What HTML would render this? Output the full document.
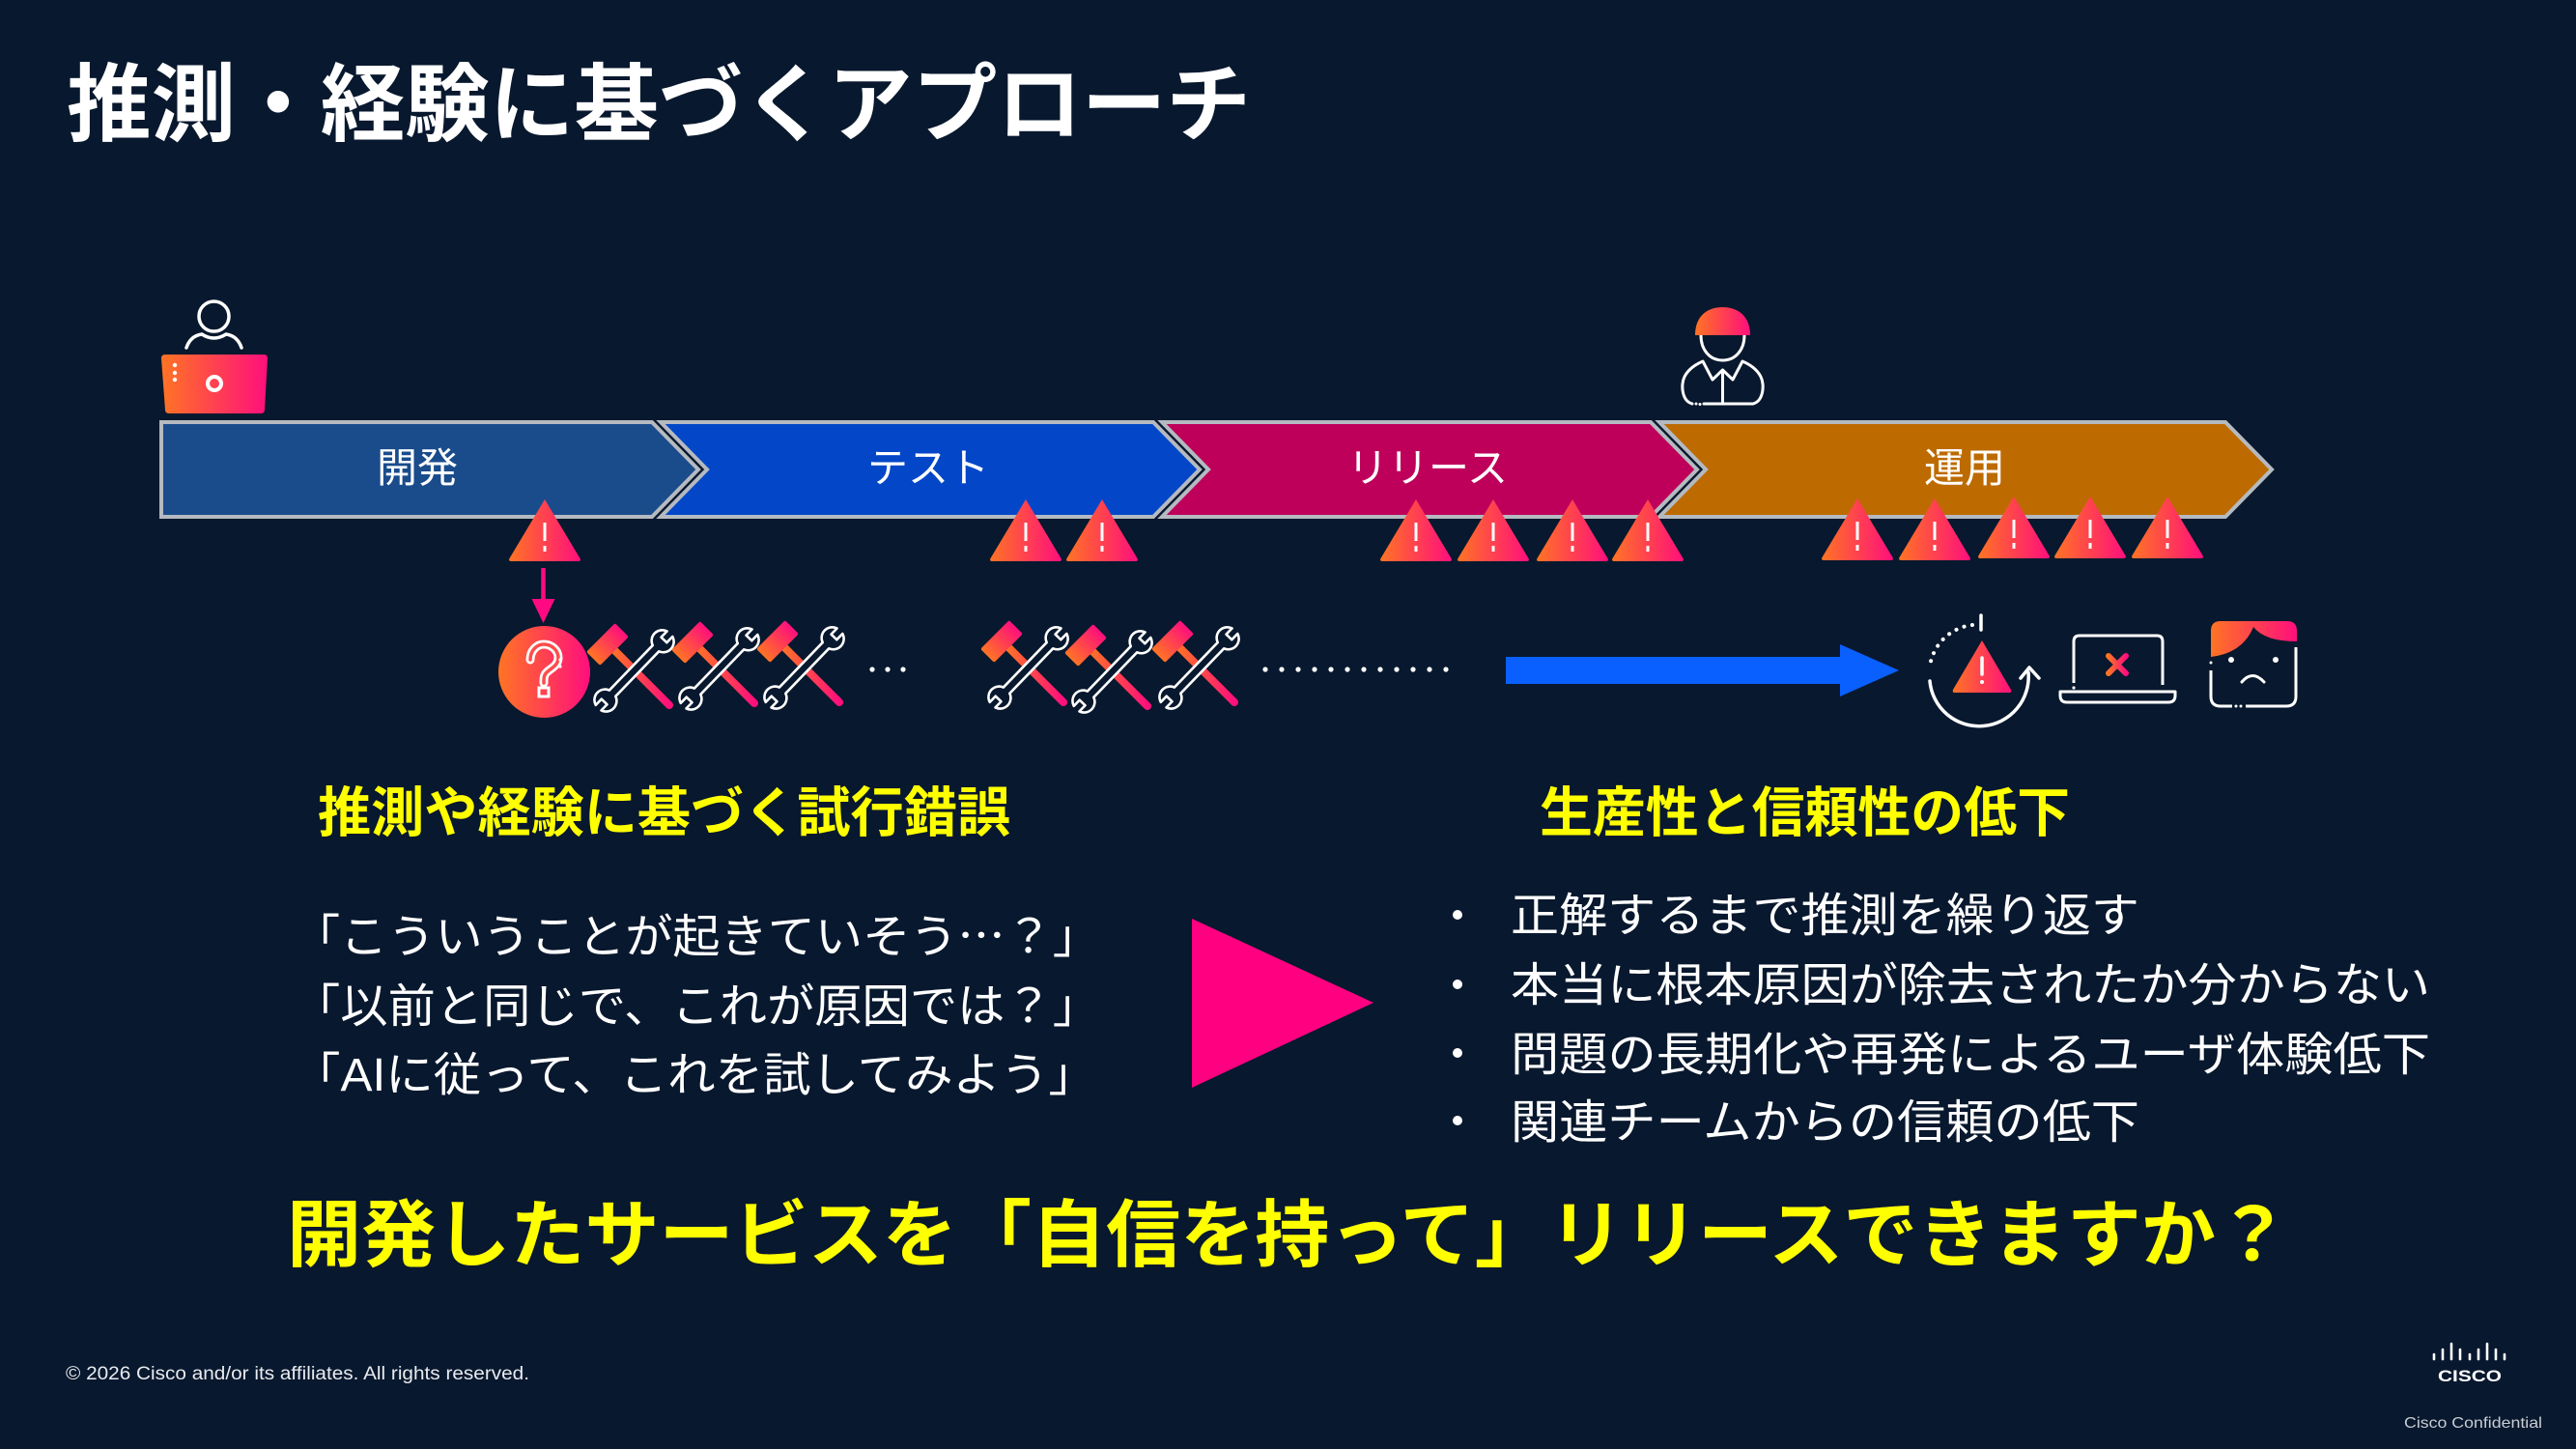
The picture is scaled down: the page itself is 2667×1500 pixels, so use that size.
<!DOCTYPE html>
<html><head><meta charset="utf-8"><style>
html,body{margin:0;padding:0;background:#08182e;}
svg{display:block;}
</style></head><body>
<svg width="2667" height="1500" viewBox="0 0 2667 1500" xmlns="http://www.w3.org/2000/svg">
<defs>
<linearGradient id="g" x1="0" y1="0" x2="1" y2="0">
<stop offset="0" stop-color="#ff7424"/><stop offset="1" stop-color="#ff0f7c"/>
</linearGradient>
<g id="warn">
<path d="M0,0 L36.5,61 Q38,64 34.5,64 L-34.5,64 Q-38,64 -36.5,61 Z" fill="url(#g)"/>
<line x1="0" y1="24" x2="0" y2="43" stroke="#fff" stroke-width="3"/>
<line x1="0" y1="48" x2="0" y2="54" stroke="#fff" stroke-width="3"/>
</g>
<g id="tool">
<line x1="22" y1="20" x2="82" y2="80" stroke="url(#g)" stroke-width="8" stroke-linecap="round"/>
<rect x="-21" y="-10" width="42" height="20" rx="2" fill="url(#g)" transform="translate(18,17) rotate(-45)"/>
<g transform="translate(16,75) rotate(-46) translate(-12,0)">
<path d="M1.4,-4 L10,-4 L10,4 L1.4,4 A11 11 0 0 0 22.2,4.5 L86.8,4.5 A11 11 0 0 0 107.6,4 L99,4 L99,-4 L107.6,-4 A11 11 0 0 0 86.8,-4.5 L22.2,-4.5 A11 11 0 0 0 1.4,-4 Z" fill="#08182e" stroke="#fff" stroke-width="2.6" stroke-linejoin="round"/>
</g>
</g>
</defs>

<rect width="2667" height="1500" fill="#08182e"/>

<!-- Title -->
<text x="69" y="139" font-family="'Liberation Sans','Noto Sans CJK JP',sans-serif" font-size="88" font-weight="bold" fill="#fff" textLength="1226" lengthAdjust="spacingAndGlyphs">推測・経験に基づくアプローチ</text>

<!-- Developer icon -->
<circle cx="221.5" cy="327.5" r="15.5" fill="none" stroke="#fff" stroke-width="3.5"/>
<path d="M193,360 C196,351 202,347 209,346 Q221.5,354 234,346 C241,347 247,351 250,360" fill="none" stroke="#fff" stroke-width="3.5" stroke-linecap="round"/>
<path d="M171,367 L273,367 Q277,367 277,371 L274,424 Q274,428 270,428 L175,428 Q171,428 171,424 L167,371 Q167,367 171,367 Z" fill="url(#g)"/>
<circle cx="181" cy="378" r="2.2" fill="#fff"/><circle cx="181" cy="386" r="2.2" fill="#fff"/><circle cx="181" cy="393" r="2.2" fill="#fff"/>
<circle cx="222" cy="397" r="7" fill="none" stroke="#fff" stroke-width="4"/>

<!-- Worker icon -->
<path d="M1755,347 C1755,326 1769,318 1783.5,318 C1798,318 1812,326 1812,347 Z" fill="url(#g)"/>
<path d="M1761,347 C1761,362 1770,373 1783.5,373 C1797,373 1806,362 1806,347" fill="none" stroke="#fff" stroke-width="3"/>
<path d="M1752,418 C1741,415 1740,398 1744,390 C1748,382 1756,377 1763,374 M1804,374 C1811,377 1819,382 1823,390 C1827,398 1826,415 1815,418 L1764,418" fill="none" stroke="#fff" stroke-width="3" stroke-linecap="round"/>
<path d="M1763,374 L1773,393 L1783.5,383 L1794,393 L1804,374" fill="none" stroke="#fff" stroke-width="3" stroke-linejoin="round"/>
<line x1="1783.5" y1="383" x2="1783.5" y2="418" stroke="#fff" stroke-width="3"/>
<circle cx="1756" cy="418" r="1.5" fill="#fff"/><circle cx="1760" cy="418.5" r="1.5" fill="#fff"/>

<!-- Chevrons -->
<g stroke="#b5bac1" stroke-width="4" stroke-linejoin="miter">
<polygon points="167,437 675,437 723,486 675,535 167,535" fill="#1a4c8c"/>
<polygon points="684,437 1194,437 1242,486 1194,535 684,535 732,486" fill="#0347c8"/>
<polygon points="1203,437 1709,437 1757,486 1709,535 1203,535 1251,486" fill="#bf005b"/>
<polygon points="1718,437 2304,437 2352,486 2304,535 1718,535 1766,486" fill="#bd6b00"/>
</g>
<g font-family="'Liberation Sans','Noto Sans CJK JP',sans-serif" font-size="42" fill="#fff" text-anchor="middle">
<text x="432" y="499">開発</text>
<text x="961" y="499">テスト</text>
<text x="1478" y="499">リリース</text>
<text x="2034" y="499">運用</text>
</g>

<!-- Warning triangles -->
<use href="#warn" x="564" y="517"/>
<use href="#warn" x="1062" y="517"/>
<use href="#warn" x="1141" y="517"/>
<use href="#warn" x="1466" y="517"/>
<use href="#warn" x="1546" y="517"/>
<use href="#warn" x="1628" y="517"/>
<use href="#warn" x="1706" y="517"/>
<use href="#warn" x="1923" y="516"/>
<use href="#warn" x="2003" y="516"/>
<use href="#warn" x="2085" y="514"/>
<use href="#warn" x="2164" y="514"/>
<use href="#warn" x="2244" y="514"/>

<!-- pink down arrow -->
<line x1="562.5" y1="588" x2="562.5" y2="623" stroke="#ff0a80" stroke-width="4.5"/>
<polygon points="550.5,620 574.5,620 562.5,645" fill="#ff0a80"/>

<!-- question circle -->
<circle cx="563.5" cy="695.5" r="47.5" fill="url(#g)"/>
<path d="M549,683 C549,673 556,667 563,667 C571,667 578,673 578,681 C578,689 570,692 566,696 C563,699 563,702 563,707" fill="none" stroke="#fff" stroke-width="9" stroke-linecap="round"/>
<path d="M549,683 C549,673 556,667 563,667 C571,667 578,673 578,681 C578,689 570,692 566,696 C563,699 563,702 563,707" fill="none" stroke="#ff4d4a" stroke-width="3.5" stroke-linecap="round"/>
<circle cx="580" cy="683" r="1.6" fill="#fff"/><circle cx="580" cy="690" r="1.6" fill="#fff"/>
<rect x="558" y="712" width="10" height="9" fill="none" stroke="#fff" stroke-width="3"/>

<!-- tools -->
<use href="#tool" x="611" y="650"/>
<use href="#tool" x="699" y="648"/>
<use href="#tool" x="787" y="647"/>
<use href="#tool" x="1019" y="647"/>
<use href="#tool" x="1106" y="651"/>
<use href="#tool" x="1196" y="647"/>

<!-- dots -->
<g fill="#fff">
<circle cx="903" cy="693" r="2.6"/><circle cx="919" cy="693" r="2.6"/><circle cx="935" cy="693" r="2.6"/>
<circle cx="1310" cy="693" r="2.6"/><circle cx="1327" cy="693" r="2.6"/><circle cx="1344" cy="693" r="2.6"/><circle cx="1361" cy="693" r="2.6"/><circle cx="1378" cy="693" r="2.6"/><circle cx="1395" cy="693" r="2.6"/><circle cx="1412" cy="693" r="2.6"/><circle cx="1429" cy="693" r="2.6"/><circle cx="1446" cy="693" r="2.6"/><circle cx="1463" cy="693" r="2.6"/><circle cx="1480" cy="693" r="2.6"/><circle cx="1497" cy="693" r="2.6"/>
</g>

<!-- blue arrow -->
<rect x="1559" y="680" width="348" height="28" fill="#0a5fff"/>
<polygon points="1905,667 1966,694 1905,721" fill="#0a5fff"/>

<!-- cycle icon -->
<line x1="2051" y1="637" x2="2051" y2="652" stroke="#fff" stroke-width="3.5" stroke-linecap="round"/>
<path d="M2042,647 A50 50 0 0 0 1998,690" fill="none" stroke="#fff" stroke-width="4" stroke-linecap="round" stroke-dasharray="0.1 8.5"/>
<path d="M1998,705 A51 51 0 0 0 2100,696" fill="none" stroke="#fff" stroke-width="3.5" stroke-linecap="round"/>
<polyline points="2092,702 2101,691 2111,702" fill="none" stroke="#fff" stroke-width="3.5" stroke-linecap="round" stroke-linejoin="round"/>
<path d="M2052,663 L2082,714 Q2083,717 2080,717 L2024,717 Q2021,717 2022,714 Z" fill="url(#g)"/>
<line x1="2052" y1="681" x2="2052" y2="698" stroke="#fff" stroke-width="3.5" stroke-linecap="round"/>
<circle cx="2052" cy="706" r="2" fill="#fff"/>

<!-- laptop icon -->
<path d="M2147,707 L2147,664 Q2147,658 2153,658 L2233,658 Q2239,658 2239,664 L2239,709" fill="none" stroke="#fff" stroke-width="3"/>
<circle cx="2147" cy="712" r="1.6" fill="#fff"/>
<path d="M2133,716 L2252,716 L2252,720 Q2252,727 2245,727 L2140,727 Q2133,727 2133,720 Z" fill="none" stroke="#fff" stroke-width="3" stroke-linejoin="round"/>
<g stroke="url(#g)" stroke-width="6" stroke-linecap="round">
<line x1="2183" y1="679" x2="2201" y2="697"/>
<line x1="2201" y1="679" x2="2183" y2="697"/>
</g>

<!-- sad face icon -->
<path d="M2289,694 L2289,721 Q2289,731 2299,731 L2311,731 M2325,731 L2367,731 Q2377,731 2377,721 L2377,670" fill="none" stroke="#fff" stroke-width="3"/>
<circle cx="2289" cy="686" r="1.5" fill="#fff"/><circle cx="2315" cy="731" r="1.5" fill="#fff"/><circle cx="2320" cy="731" r="1.5" fill="#fff"/>
<path d="M2289,680 L2289,653 Q2289,643 2299,643 L2368,643 Q2378,643 2378,653 L2378,664 Q2345,664 2333,649 Q2322,676 2289,680 Z" fill="url(#g)"/>
<circle cx="2310" cy="683" r="3" fill="#fff"/><circle cx="2356" cy="683" r="3" fill="#fff"/>
<path d="M2321,706 Q2332,693 2344,706" fill="none" stroke="#fff" stroke-width="3" stroke-linecap="round"/>

<!-- yellow headings -->
<g font-family="'Liberation Sans','Noto Sans CJK JP',sans-serif" font-weight="bold" fill="#ffff00">
<text x="329" y="861" font-size="56" textLength="717" lengthAdjust="spacingAndGlyphs">推測や経験に基づく試行錯誤</text>
<text x="1594" y="861" font-size="56" textLength="549" lengthAdjust="spacingAndGlyphs">生産性と信頼性の低下</text>
<text x="297" y="1305" font-size="76" textLength="2074" lengthAdjust="spacingAndGlyphs">開発したサービスを「自信を持って」リリースできますか？</text>
</g>

<!-- quotes -->
<g font-family="'Liberation Sans','Noto Sans CJK JP',sans-serif" font-size="48" fill="#fff">
<text x="303" y="986" textLength="836" lengthAdjust="spacingAndGlyphs">「こういうことが起きていそう<tspan font-family="'Noto Sans CJK JP',sans-serif">…</tspan>？」</text>
<text x="303" y="1058" textLength="836" lengthAdjust="spacingAndGlyphs">「以前と同じで、これが原因では？」</text>
<text x="303" y="1129" textLength="832" lengthAdjust="spacingAndGlyphs">「AIに従って、これを試してみよう」</text>
</g>

<!-- big pink triangle -->
<polygon points="1234,951 1422,1038 1234,1126" fill="#ff0080"/>

<!-- bullets -->
<g fill="#fff">
<circle cx="1509" cy="947" r="5"/><circle cx="1509" cy="1019" r="5"/><circle cx="1509" cy="1090" r="5"/><circle cx="1509" cy="1160" r="5"/>
</g>
<g font-family="'Liberation Sans','Noto Sans CJK JP',sans-serif" font-size="48" fill="#fff">
<text x="1564" y="964" textLength="651" lengthAdjust="spacingAndGlyphs">正解するまで推測を繰り返す</text>
<text x="1564" y="1036" textLength="952" lengthAdjust="spacingAndGlyphs">本当に根本原因が除去されたか分からない</text>
<text x="1564" y="1108" textLength="952" lengthAdjust="spacingAndGlyphs">問題の長期化や再発によるユーザ体験低下</text>
<text x="1564" y="1178" textLength="651" lengthAdjust="spacingAndGlyphs">関連チームからの信頼の低下</text>
</g>

<!-- footer -->
<text x="68" y="1428" font-family="'Liberation Sans',sans-serif" font-size="19" fill="#e8ebef" textLength="480" lengthAdjust="spacingAndGlyphs">© 2026 Cisco and/or its affiliates. All rights reserved.</text>
<g stroke="#fff" stroke-width="2.6" stroke-linecap="round">
<line x1="2520" y1="1402" x2="2520" y2="1407"/>
<line x1="2529" y1="1397" x2="2529" y2="1407"/>
<line x1="2538" y1="1391" x2="2538" y2="1407"/>
<line x1="2547" y1="1397" x2="2547" y2="1407"/>
<line x1="2557" y1="1402" x2="2557" y2="1407"/>
<line x1="2566" y1="1397" x2="2566" y2="1407"/>
<line x1="2575" y1="1391" x2="2575" y2="1407"/>
<line x1="2584" y1="1397" x2="2584" y2="1407"/>
<line x1="2593" y1="1402" x2="2593" y2="1407"/>
</g>
<text x="2524" y="1430" font-family="'Liberation Sans',sans-serif" font-size="17" font-weight="bold" fill="#fff" textLength="66" lengthAdjust="spacingAndGlyphs">CISCO</text>
<text x="2489" y="1478" font-family="'Liberation Sans',sans-serif" font-size="16" fill="#c9cdd4" textLength="143" lengthAdjust="spacingAndGlyphs">Cisco Confidential</text>
</svg>
</body></html>
